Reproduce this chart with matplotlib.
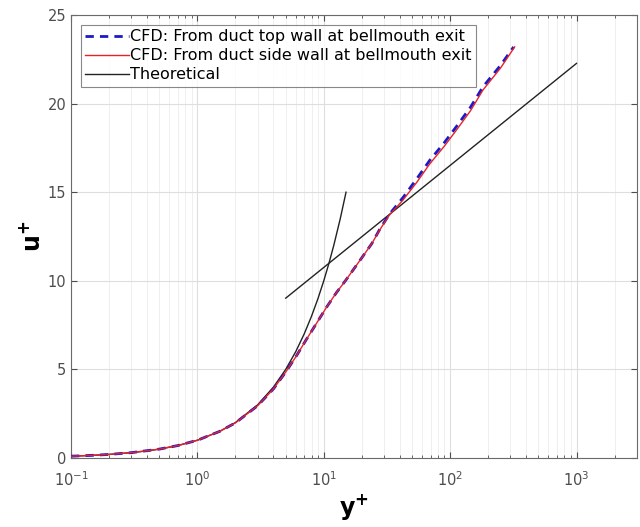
import numpy as np
import matplotlib.pyplot as plt
from matplotlib.ticker import LogLocator, MultipleLocator, NullFormatter

# CFD velocity profile, duct side wall (red)
yplus_side = [0.1, 0.15, 0.2, 0.3, 0.5, 0.7, 1.0, 1.5, 2.0, 3.0, 4.0, 5.0, 6.0,
              7.3, 8.5, 10.5, 12.5, 15.0, 20.0, 24.0, 27.7, 33.0, 42.4, 55.0,
              69.0, 90.0, 112.0, 145.0, 182.0, 250.0, 324.0]
uplus_side = [0.1, 0.15, 0.2, 0.3, 0.5, 0.7, 1.0, 1.5, 1.98, 2.95, 3.9, 4.85, 5.7,
              6.7, 7.45, 8.5, 9.3, 10.05, 11.3, 12.1, 12.87, 13.7, 14.56, 15.6,
              16.6, 17.6, 18.5, 19.6, 20.77, 22.0, 23.2]

# CFD velocity profile, duct top wall (blue dashed)
yplus_top = [0.1, 0.15, 0.2, 0.3, 0.5, 0.7, 1.0, 1.5, 2.0, 3.0, 4.0, 5.0, 6.0,
             7.3, 8.5, 10.5, 12.5, 15.0, 20.0, 24.0, 27.7, 33.0, 42.4, 55.0,
             69.0, 90.0, 112.0, 145.0, 182.0, 250.0, 318.0]
uplus_top = [0.1, 0.15, 0.2, 0.3, 0.5, 0.7, 1.0, 1.5, 1.98, 2.95, 3.9, 4.85, 5.7,
             6.7, 7.45, 8.5, 9.3, 10.05, 11.3, 12.1, 12.9, 13.75, 14.7, 15.8,
             16.8, 17.8, 18.7, 19.8, 20.95, 22.15, 23.2]

# Theoretical: viscous sublayer u+ = y+ and log law
yplus_visc = [0.1, 0.15, 0.2, 0.3, 0.4, 0.5, 0.7, 1.0, 1.5, 2.0, 3.0, 4.0, 5.0,
              6.0, 7.0, 8.0, 9.0, 10.0, 11.0, 12.0, 13.5, 15.0]
uplus_visc = [0.1, 0.15, 0.2, 0.3, 0.4, 0.5, 0.7, 1.0, 1.5, 2.0, 3.0, 4.0, 5.0,
              6.0, 7.0, 8.0, 9.0, 10.0, 11.0, 12.0, 13.5, 15.0]
yplus_log = [5.0, 1000.0]
uplus_log = [9.02, 22.27]

fig = plt.figure(figsize=(6.4, 5.27), dpi=100)
ax = fig.add_axes([0.111, 0.131, 0.884, 0.8405])

ax.plot(yplus_top, uplus_top, color='#1a1ac8', lw=2.0, ls=(0, (3, 2.2)),
        label='CFD: From duct top wall at bellmouth exit', zorder=3)
ax.plot(yplus_side, uplus_side, color='#e8202a', lw=1.0,
        label='CFD: From duct side wall at bellmouth exit', zorder=4)
ax.plot(yplus_visc, uplus_visc, color='#222222', lw=1.0, label='Theoretical', zorder=2)
ax.plot(yplus_log, uplus_log, color='#222222', lw=1.0, zorder=2)

ax.set_xscale('log')
ax.set_xlim(0.1, 3000)
ax.set_ylim(0, 25)
ax.yaxis.set_major_locator(MultipleLocator(5))
ax.xaxis.set_major_locator(LogLocator(base=10, numticks=10))
ax.xaxis.set_minor_locator(LogLocator(base=10, subs=np.arange(2, 10), numticks=20))
ax.xaxis.set_minor_formatter(NullFormatter())

ax.grid(True, which='major', color='#dedede', lw=0.8)
ax.grid(True, which='minor', axis='x', color='#efefef', lw=0.7)
ax.set_axisbelow(True)

ax.tick_params(which='both', direction='in', top=True, right=True,
               colors='#4d4d4d', labelsize=10.5)
ax.tick_params(which='major', length=4)
ax.tick_params(which='minor', length=2.5)
ax.tick_params(axis='x', which='major', pad=9)
for s in ax.spines.values():
    s.set_color('#6a6a6a')
    s.set_linewidth(0.8)

ax.set_xlabel('$\\mathbf{y^{+}}$', fontsize=17, labelpad=2)
ax.set_ylabel('$\\mathbf{u^{+}}$', fontsize=17, labelpad=2)

leg = ax.legend(loc='upper left', fontsize=11.5, frameon=True, fancybox=False,
                handlelength=2.7, handletextpad=0.1, borderpad=0.3,
                labelspacing=0.25, borderaxespad=0.6)
leg.get_frame().set_edgecolor('#6a6a6a')
leg.get_frame().set_linewidth(0.8)

fig.savefig('out.png', dpi=100)
